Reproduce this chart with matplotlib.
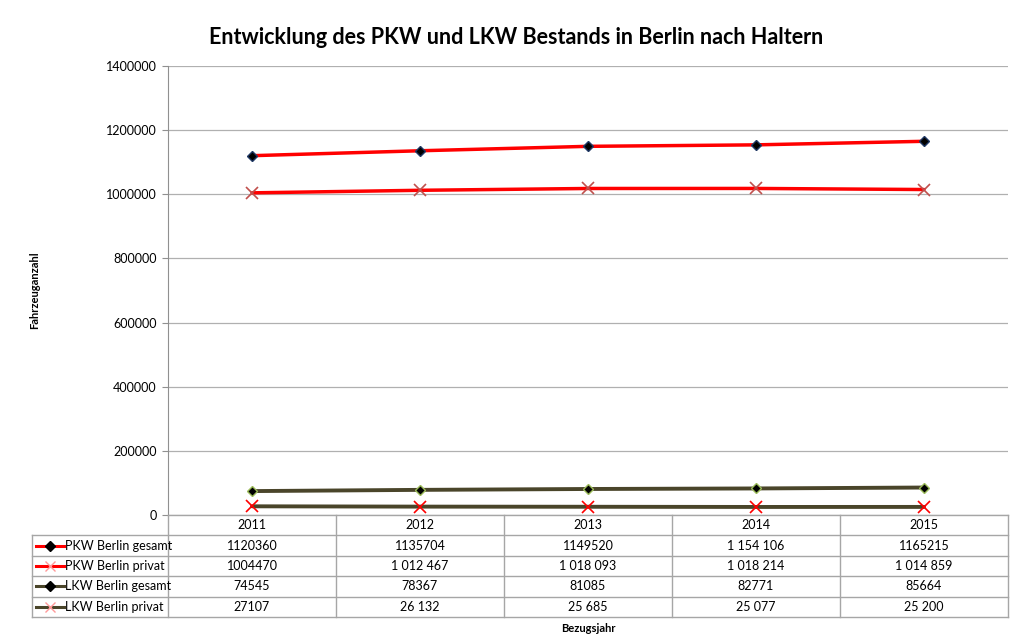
import numpy as np
import matplotlib.pyplot as plt

plt.rcParams['font.family'] = ['Lato', 'DejaVu Sans']

years = ['2011', '2012', '2013', '2014', '2015']
series_names = ['PKW Berlin gesamt', 'PKW Berlin privat',
                'LKW Berlin gesamt', 'LKW Berlin privat']
pkw_gesamt = [1120360, 1135704, 1149520, 1154106, 1165215]
pkw_privat = [1004470, 1012467, 1018093, 1018214, 1014859]
lkw_gesamt = [74545, 78367, 81085, 82771, 85664]
lkw_privat = [27107, 26132, 25685, 25077, 25200]
# how the numbers are printed in the table (as in the original)
table_text = [
    ['1120360', '1135704', '1149520', '1 154 106', '1165215'],
    ['1004470', '1 012 467', '1 018 093', '1 018 214', '1 014 859'],
    ['74545', '78367', '81085', '82771', '85664'],
    ['27107', '26 132', '25 685', '25 077', '25 200'],
]

# line styles
styles = [
    dict(color='#ff0000', lw=2.5, marker='D', mfc='#000000', mec='#1f3864', ms=5, mew=1.0),
    dict(color='#ff0000', lw=2.5, marker='x', mfc='#c0504d', mec='#c0504d', ms=8, mew=1.2),
    dict(color='#4a452a', lw=2.8, marker='D', mfc='#000000', mec='#9bbb59', ms=5, mew=1.0),
    dict(color='#4a452a', lw=2.8, marker='x', mfc='#ff0000', mec='#ff0000', ms=8, mew=1.2),
]

W, H = 1011, 643
fig = plt.figure(figsize=(W / 100, H / 100), dpi=100)

left, right = 168, 1008
top, bottom = 66, 515
ax = fig.add_axes([left / W, 1 - bottom / H, (right - left) / W, (bottom - top) / H])

x = np.arange(len(years))
values = [pkw_gesamt, pkw_privat, lkw_gesamt, lkw_privat]
for vals, st in zip(values, styles):
    ax.plot(x, vals, color=st['color'], lw=st['lw'], marker=st['marker'],
            markerfacecolor=st['mfc'], markeredgecolor=st['mec'],
            markersize=st['ms'], markeredgewidth=st['mew'], zorder=3,
            solid_capstyle='round', clip_on=False)

ax.set_xlim(-0.5, len(years) - 0.5)
ax.set_ylim(0, 1400000)
ax.set_yticks(np.arange(0, 1400001, 200000))
ax.set_yticklabels([str(v) for v in range(0, 1400001, 200000)], fontsize=9)
ax.set_xticks([])
ax.grid(axis='y', color='#b0b0b0', lw=0.9)
ax.set_axisbelow(True)
for s in ['top', 'right', 'bottom']:
    ax.spines[s].set_visible(False)
ax.spines['left'].set_color('#909090')
ax.tick_params(axis='y', length=4, color='#909090', pad=4)

# data table below the plot
tb_bottom = 617
tax = fig.add_axes([left / W, 1 - tb_bottom / H, (right - left) / W, (tb_bottom - bottom) / H])
tax.set_xlim(-0.5, len(years) - 0.5)
tax.set_ylim(len(series_names) + 1, 0)
tax.axis('off')
grid_c = '#a6a6a6'
unit_px = (right - left) / len(years)
leg_left = -0.5 - (left - 32) / unit_px

# horizontal lines
tax.plot([-0.5, 4.5], [0, 0], color=grid_c, lw=1, clip_on=False)
for r in range(1, len(series_names) + 2):
    tax.plot([leg_left, 4.5], [r, r], color=grid_c, lw=1, clip_on=False)
# vertical lines
for c in range(len(years) + 1):
    tax.plot([c - 0.5, c - 0.5], [0, len(series_names) + 1], color=grid_c, lw=1, clip_on=False)
tax.plot([leg_left, leg_left], [1, len(series_names) + 1], color=grid_c, lw=1, clip_on=False)

for i, yr in enumerate(years):
    tax.text(i, 0.5, yr, ha='center', va='center', fontsize=9)
for r, (name, row, st) in enumerate(zip(series_names, table_text, styles)):
    yy = r + 1.5
    for i, t in enumerate(row):
        tax.text(i, yy, t, ha='center', va='center', fontsize=9)
    x0 = leg_left + 4 / unit_px
    x1 = x0 + 28 / unit_px
    mc = st['mfc'] if st['marker'] == 'D' else '#ff9999'
    tax.plot([x0, x1], [yy, yy], color=st['color'], lw=2.2, clip_on=False)
    tax.plot([(x0 + x1) / 2], [yy], marker=st['marker'], color=mc,
             markersize=5 if st['marker'] == 'D' else 7,
             markeredgewidth=1.0, clip_on=False)
    tax.text(x1 + 1 / unit_px, yy, name, ha='left', va='center', fontsize=9)

fig.text(516 / W, 1 - 38 / H, 'Entwicklung des PKW und LKW Bestands in Berlin nach Haltern',
         ha='center', va='center', fontsize=15.5, fontweight='bold')
fig.text(35 / W, 1 - 290 / H, 'Fahrzeuganzahl', rotation=90, ha='center', va='center',
         fontsize=8, fontweight='bold')
fig.text(588 / W, 1 - 628 / H, 'Bezugsjahr', ha='center', va='center',
         fontsize=8, fontweight='bold')

fig.savefig('out.png', dpi=100)
